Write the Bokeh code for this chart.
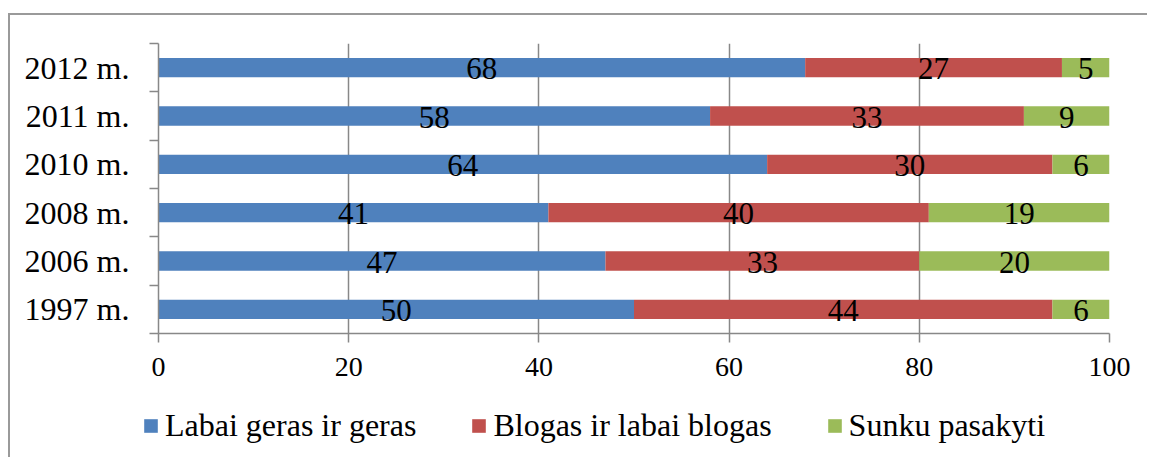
from bokeh.plotting import figure
from bokeh.models import (ColumnDataSource, Range1d, FixedTicker, Legend, LegendItem)
from bokeh.core.properties import value
from bokeh.embed import file_html
from bokeh.resources import INLINE

# ---- data ----
years = ["1997 m.", "2006 m.", "2008 m.", "2010 m.", "2011 m.", "2012 m."]
good = [50, 47, 41, 64, 58, 68]
bad = [44, 33, 40, 30, 33, 27]
hard = [6, 20, 19, 6, 9, 5]
series_names = ["Labai geras ir geras", "Blogas ir labai blogas", "Sunku pasakyti"]
x_ticks = [0, 20, 40, 60, 80, 100]

colors = ["#4F81BD", "#C0504D", "#9BBB59"]
FONT = "Liberation Serif"
GRAY = "#888888"
BORDER = "2px solid #9a9a9a"

ypos = [i + 0.5 for i in range(len(years))]
src = ColumnDataSource(dict(y=ypos, good=good, bad=bad, hard=hard))

p = figure(width=1139, height=380, output_backend="svg", toolbar_location=None,
           x_range=Range1d(0, 100), y_range=Range1d(0, len(years)),
           min_border_left=148, min_border_right=40, min_border_top=28,
           min_border_bottom=62)
p.styles = {"border-left": BORDER, "border-top": BORDER,
            "margin-top": "13px", "margin-left": "8px"}
p.outline_line_color = None

rs = p.hbar_stack(["good", "bad", "hard"], y="y", height=0.4, color=colors,
                  line_color=None, source=src)

# data labels
lab_x, lab_y, lab_t = [], [], []
for i in range(len(years)):
    vals = [good[i], bad[i], hard[i]]
    c = 0
    for v in vals:
        lab_x.append(c + v / 2)
        lab_y.append(ypos[i])
        lab_t.append(str(v))
        c += v
p.text(x=lab_x, y=lab_y, text=lab_t, text_align="center", text_baseline="middle",
       text_font=value(FONT), text_font_size="31px", text_color="black", y_offset=1)

# x axis
p.xaxis.ticker = FixedTicker(ticks=x_ticks)
p.xaxis.axis_line_color = GRAY
p.xaxis.axis_line_width = 1.5
p.xaxis.major_tick_line_color = GRAY
p.xaxis.major_tick_line_width = 1.5
p.xaxis.major_tick_in = 0
p.xaxis.major_tick_out = 9
p.xaxis.minor_tick_line_color = None
p.xaxis.major_label_text_font = FONT
p.xaxis.major_label_text_font_size = "28px"
p.xaxis.major_label_text_color = "black"
p.xaxis.major_label_standoff = 15

# y axis
p.yaxis.ticker = FixedTicker(ticks=ypos, minor_ticks=list(range(len(years) + 1)))
p.yaxis.major_label_overrides = {y: t for y, t in zip(ypos, years)}
p.yaxis.axis_line_color = GRAY
p.yaxis.axis_line_width = 1.5
p.yaxis.major_tick_line_color = None
p.yaxis.major_tick_in = 0
p.yaxis.major_tick_out = 0
p.yaxis.minor_tick_line_color = GRAY
p.yaxis.minor_tick_line_width = 1.5
p.yaxis.minor_tick_in = 0
p.yaxis.minor_tick_out = 9
p.yaxis.major_label_text_font = FONT
p.yaxis.major_label_text_font_size = "32px"
p.yaxis.major_label_text_color = "black"
p.yaxis.major_label_standoff = 20

p.xgrid.ticker = FixedTicker(ticks=x_ticks)
p.xgrid.grid_line_color = GRAY
p.xgrid.grid_line_width = 1.5
p.ygrid.grid_line_color = None

# legend strip (separate root figure below, same series)
pl = figure(width=1139, height=64, output_backend="svg", toolbar_location=None,
            x_range=Range1d(0, 100), y_range=Range1d(0, 1),
            x_axis_location=None, y_axis_location=None,
            min_border_left=0, min_border_right=0, min_border_top=0, min_border_bottom=0)
pl.styles = {"border-left": BORDER, "margin-left": "8px"}
pl.outline_line_color = None
pl.xgrid.grid_line_color = None
pl.ygrid.grid_line_color = None
rl = pl.hbar_stack(["good", "bad", "hard"], y="y", height=0.4, color=colors,
                   line_color=None, source=src)
for r in rl:
    r.visible = False

legend = Legend(items=[LegendItem(label=n, renderers=[r]) for n, r in zip(series_names, rl)],
                orientation="horizontal", location=(132, 13),
                glyph_width=17, glyph_height=17, label_standoff=6, spacing=54,
                padding=0, margin=0, border_line_color=None, background_fill_alpha=0,
                label_text_font=FONT, label_text_font_size="32px", label_text_color="black")
pl.add_layout(legend, "center")

open("out.html", "w").write(file_html([p, pl], INLINE))
